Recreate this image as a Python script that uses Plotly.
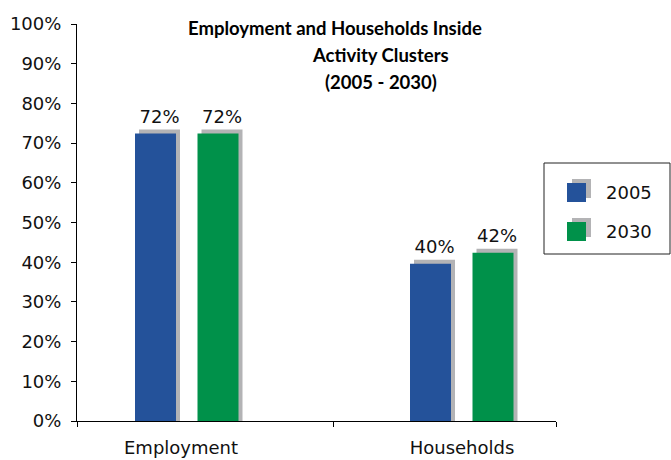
import plotly.graph_objects as go

# ---- data ----
categories = ["Employment", "Households"]
series_names = ["2005", "2030"]
values_2005 = [0.724, 0.396]
values_2030 = [0.724, 0.424]
title_lines = ["Employment and Households Inside", "Activity Clusters", "(2005 - 2030)"]
y_tickvals = [i / 10 for i in range(11)]

# ---- styling / layout constants ----
W, H = 671, 460
L, R, T, B = 77, 556, 24, 421          # plot area in pixels
PX_PER_CAT = 275.0
CAT0_PX = 188.0
x_range = [(L - CAT0_PX) / PX_PER_CAT, 1 + (R - (CAT0_PX + PX_PER_CAT)) / PX_PER_CAT]
boundary = (333 - CAT0_PX) / PX_PER_CAT
label_shift = [-7 / PX_PER_CAT, -1 / PX_PER_CAT]
bar_w = 41 / PX_PER_CAT
offsets = [-32.5 / PX_PER_CAT, 30 / PX_PER_CAT]
shadow_dx = 4 / PX_PER_CAT
shadow_dy = 4 / (B - T)
colors = ["#24529a", "#00914a"]
shadow_color = "#b3b3b5"
FONT = "DejaVu Sans"


def pxx(p):
    return (p - L) / (R - L)


def pxy(p):
    return (B - p) / (B - T)


fig = go.Figure()
all_vals = [values_2005, values_2030]

# shadows first (carry the value labels, centred over bar + shadow)
for k, vals in enumerate(all_vals):
    fig.add_trace(go.Bar(
        x=[i + offsets[k] + shadow_dx for i in range(len(categories))],
        y=[v + shadow_dy for v in vals],
        width=bar_w,
        marker=dict(color=shadow_color, line=dict(width=0)),
        text=[f"{v:.0%}" for v in vals],
        textposition="outside",
        textfont=dict(family=FONT, size=18, color="#111"),
        cliponaxis=False,
        showlegend=False,
        hoverinfo="skip",
    ))
for k, vals in enumerate(all_vals):
    fig.add_trace(go.Bar(
        x=[i + offsets[k] for i in range(len(categories))],
        y=vals,
        width=bar_w,
        name=series_names[k],
        marker=dict(color=colors[k], line=dict(width=0)),
        showlegend=False,
    ))

shapes = []
annotations = []

# legend box
shapes.append(dict(type="rect", xref="paper", yref="paper",
                   x0=pxx(544), x1=pxx(670), y0=pxy(254), y1=pxy(163),
                   line=dict(color="#222", width=1), fillcolor="white", layer="below"))
for k, name in enumerate(series_names):
    dy = k * 39
    shapes.append(dict(type="rect", xref="paper", yref="paper",
                       x0=pxx(572), x1=pxx(591), y0=pxy(198 + dy), y1=pxy(179 + dy),
                       line=dict(width=0), fillcolor=shadow_color))
    shapes.append(dict(type="rect", xref="paper", yref="paper",
                       x0=pxx(567), x1=pxx(586), y0=pxy(202 + dy), y1=pxy(183 + dy),
                       line=dict(width=0), fillcolor=colors[k]))
    annotations.append(dict(text=name, xref="paper", yref="paper",
                            x=pxx(604), y=pxy(192 + dy), xanchor="left", yanchor="middle",
                            showarrow=False, font=dict(family=FONT, size=18, color="#111")))

# title lines
title_pos = [(335, 28), (380, 55), (381, 82)]
for line, (tx, ty) in zip(title_lines, title_pos):
    annotations.append(dict(text=f"<b>{line}</b>", xref="paper", yref="paper",
                            x=pxx(tx), y=pxy(ty), xanchor="center", yanchor="middle",
                            showarrow=False, font=dict(family="Lato", size=18.5, color="#000")))

fig.update_layout(
    width=W, height=H,
    margin=dict(l=L, r=W - R, t=T, b=H - B, pad=0, autoexpand=False),
    paper_bgcolor="white", plot_bgcolor="white",
    barmode="overlay",
    shapes=shapes,
    annotations=annotations,
    showlegend=False,
    xaxis=dict(
        range=x_range, showgrid=False, zeroline=False, automargin=False,
        showline=True, linecolor="#000", linewidth=1,
        tickvals=[i + s for i, s in enumerate(label_shift)], ticktext=categories, ticks="",
        tickfont=dict(family=FONT, size=18, color="#111"),
        ticklabelstandoff=10,
        minor=dict(tickvals=[x_range[0], boundary, x_range[1]], ticks="outside",
                   ticklen=5, tickcolor="#000", tickwidth=1, showgrid=False),
    ),
    yaxis=dict(
        range=[0, 1], tickvals=y_tickvals, tickformat=".0%",
        showgrid=False, zeroline=False, automargin=False,
        showline=True, linecolor="#000", linewidth=1,
        ticks="outside", ticklen=5, tickcolor="#000",
        tickfont=dict(family=FONT, size=18, color="#111"),
        ticklabelstandoff=6,
    ),
)

fig.write_html("out.html")
